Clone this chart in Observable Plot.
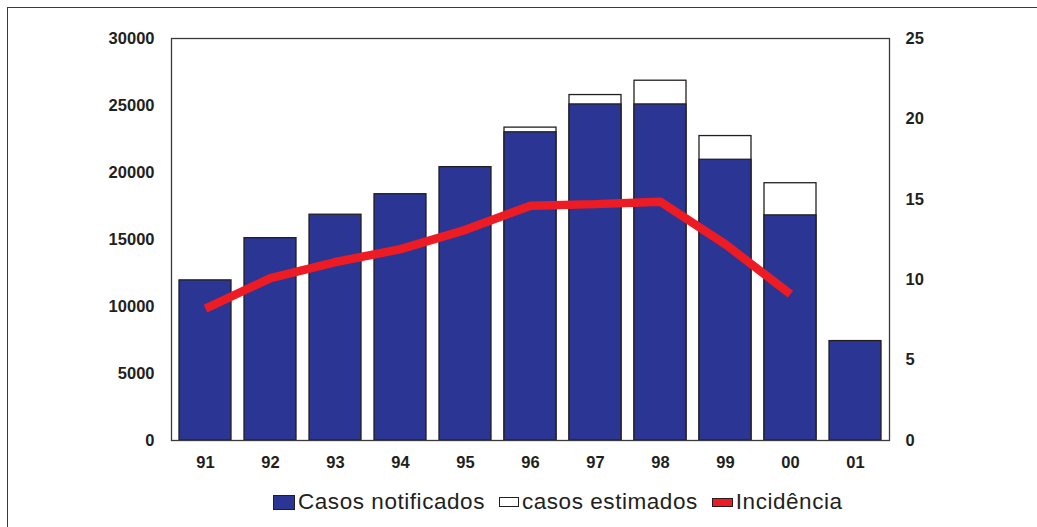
<!DOCTYPE html>
<html>
<head>
<meta charset="utf-8">
<script src="https://cdn.jsdelivr.net/npm/d3@7"></script>
<script src="https://cdn.jsdelivr.net/npm/@observablehq/plot@0.6"></script>
<style>
  html, body { margin: 0; padding: 0; background: #fff; overflow: hidden; }
  #wrap { position: relative; width: 1037px; height: 527px; overflow: hidden; font-family: "Liberation Sans", Arial, sans-serif; }
  #outer { position: absolute; left: 7px; top: 7px; width: 1200px; height: 700px; border-left: 1.5px solid #3a3a3a; border-top: 1.5px solid #3a3a3a; pointer-events: none; }
  #legend { position: absolute; left: 273px; top: 489px; display: flex; align-items: center; color: #231f20; font-size: 22.5px; letter-spacing: 0.55px; white-space: nowrap; }
  #legend .item { display: flex; align-items: center; }
  #legend .sw { display: inline-block; box-sizing: border-box; border: 1px solid #231f20; margin-right: 3px; }
  #legend .txt { margin-right: 14px; line-height: 26px; }
</style>
</head>
<body>
<div id="wrap">
  <div id="chart"></div>
  <div id="legend"></div>
  <div id="outer"></div>
</div>
<script>
// ---- data ----
const years = ["91", "92", "93", "94", "95", "96", "97", "98", "99", "00", "01"];
const casosNotificados = [11950, 15100, 16850, 18380, 20400, 23000, 25080, 25080, 20950, 16800, 7420];
const casosEstimados = [null, null, null, null, null, 23350, 25780, 26850, 22720, 19200, null];
const incidencia = [8.2, 10.1, 11.1, 11.9, 13.1, 14.6, 14.7, 14.85, 12.2, 9.1, null];
const leftTicks = [0, 5000, 10000, 15000, 20000, 25000, 30000];
const rightTicks = [0, 5, 10, 15, 20, 25];
const legendLabels = ["Casos notificados", "casos estimados", "Incidência"];

// ---- build ----
const leftMax = 30000, rightMax = 25;
const k = leftMax / rightMax; // right axis -> left axis units
const rows = years.map((y, i) => ({year: y, notif: casosNotificados[i], est: casosEstimados[i], inc: incidencia[i]}));

const blue = "#2b3593", red = "#ed1c24", ink = "#231f20";

const plot = Plot.plot({
  width: 1037,
  height: 480,
  marginLeft: 171,
  marginRight: 148,
  marginTop: 38,
  marginBottom: 40,
  style: {fontFamily: "'Liberation Sans', Arial, sans-serif", fontSize: "16.5px", fontWeight: "bold", color: ink, background: "white"},
  x: {type: "band", domain: years, paddingInner: 0.2, paddingOuter: 0.1, label: null},
  y: {domain: [0, leftMax], label: null},
  marks: [
    Plot.barY(rows.filter(d => d.est != null), {x: "year", y1: 0, y2: "est", fill: "white", stroke: ink, strokeWidth: 1.3}),
    Plot.barY(rows, {x: "year", y1: 0, y2: "notif", fill: blue, stroke: ink, strokeWidth: 1.3}),
    Plot.line(rows.filter(d => d.inc != null), {x: "year", y: d => d.inc * k, stroke: red, strokeWidth: 8.5, strokeLinejoin: "miter", strokeLinecap: "butt"}),
    Plot.frame({stroke: "#3a3a3a", strokeWidth: 1.3}),
    Plot.axisY({anchor: "left", ticks: leftTicks, tickFormat: d => String(d), tickSize: 0, tickPadding: 17, label: null}),
    Plot.axisY({anchor: "right", ticks: rightTicks.map(v => v * k), tickFormat: d => String(Math.round(d / k)), tickSize: 0, tickPadding: 16, label: null}),
    Plot.axisX({tickSize: 0, tickPadding: 16, label: null})
  ]
});
document.getElementById("chart").appendChild(plot);

// ---- legend ----
const swatches = [
  {fill: blue, w: 22, h: 15},
  {fill: "white", w: 20, h: 10},
  {fill: red, w: 21, h: 9}
];
const leg = d3.select("#legend");
legendLabels.forEach((lab, i) => {
  const it = leg.append("div").attr("class", "item");
  it.append("span").attr("class", "sw")
    .style("background", swatches[i].fill)
    .style("width", swatches[i].w + "px")
    .style("height", swatches[i].h + "px");
  it.append("span").attr("class", "txt").text(lab);
});
</script>
</body>
</html>
